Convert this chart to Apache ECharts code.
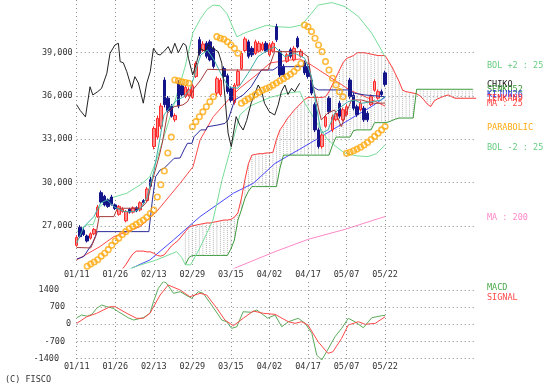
<!DOCTYPE html>
<html><head><meta charset="utf-8">
<script src="https://cdn.jsdelivr.net/npm/echarts@6/dist/echarts.min.js"></script>
<style>html,body{margin:0;padding:0;background:#fff;}#chart{width:551px;height:392px;}</style>
</head><body><div id="chart"></div>
<script>
// ---------- data ----------
const dateLabels = ['01/11','01/26','02/13','02/29','03/15','04/02','04/17','05/07','05/22'];
const dateIndex  = [0,11,22,33,44,55,66,77,88];
const slotCount  = 115;               // trading-day slots incl. 26-day forward cloud
const priceTicks = [27000,30000,33000,36000,39000];
const macdTicks  = [1400,700,0,-700,-1400];

// candles: [open, close, low, high]
const ohlc = [
[25650,26200,25550,26350],[26900,26250,26150,27050],[26700,26400,26300,26850],[26300,25950,25850,26400],
[26150,26450,26050,26550],[26450,26750,26350,26850],[27650,28300,27550,28450],[29300,28650,28550,29450],
[29050,28450,28350,29150],[28800,28350,28250,28900],[29000,28500,28400,29150],[28450,28200,28100,28550],
[27800,28350,27700,28450],[28000,28150,27900,28300],[27350,28000,27250,28100],[28150,27950,27850,28250],
[27950,28250,27850,28350],[28250,28050,27950,28350],[28100,28600,28000,28700],[28750,28600,28500,28850],
[28750,29550,28650,29700],[30200,29750,29650,30400],[32500,33750,32300,33900],[33150,34450,33000,34650],
[33900,35300,33700,35500],[37100,35400,35200,37300],[35850,35000,34850,36000],[35300,34600,34500,35450],
[34350,34650,34200,34800],[36900,35300,35150,37100],[36700,36070,35950,36850],[35950,36600,35850,36750],
[36050,36450,35950,36600],[35900,36700,35800,36850],[37350,38250,37250,38400],[39900,38950,38800,40100],
[39150,39600,39050,39800],[39650,38750,38600,39800],[39750,38500,38400,39900],[39300,38050,37900,39450],
[36200,37200,36000,37350],[36100,37100,35950,37250],[37900,37350,37200,38050],[37400,36300,36150,37550],
[36500,35700,35550,36650],[35550,36750,35400,36900],[36750,37700,36650,37850],[37900,38950,37800,39100],
[39150,39950,39050,40100],[39750,38750,38600,39900],[39300,38850,38700,39450],[38950,39750,38850,39900],
[39100,39650,39000,39800],[39200,39600,39100,39750],[39650,39100,39000,39800],[38850,39550,38750,39700],
[39100,39650,39000,39800],[40800,39900,39750,41000],[39100,37450,37300,39250],[38050,37450,37300,38200],
[38400,38850,38300,39000],[39200,38750,38600,39350],[38500,39300,38400,39450],[40000,39400,39300,40150],
[38750,39100,38650,39250],[38300,37600,37450,38450],[38050,37350,37200,38200],[37100,36200,36050,37250],
[35400,33650,33500,35550],[33650,32500,32350,33800],[32500,33300,32350,33450],[33900,34550,33800,34700],
[35850,34900,34750,36000],[33650,34550,33500,34700],[34350,34800,34250,34950],[35500,34600,34450,35650],
[34350,35050,34250,35200],[34700,35250,34600,35400],[37100,35950,35800,37250],[36050,35150,35000,36200],
[35250,34700,34550,35400],[35050,35500,34950,35650],[35150,34350,34200,35300],[34800,34350,34200,34950],
[35400,35950,35300,36100],[36400,37000,36300,37150],[35850,36300,35750,36450],[36300,36100,36000,36450],
[37600,36800,36650,37750]
];

// lines as [day index, price]
const chiko = [[0,35380],[1,35000],[2.5,34550],[3.8,36640],[4.6,36070],[6,36300],[7.1,36530],[8.6,37570],[9.5,38950],[10.9,39530],[11.9,39650],[12.4,38380],[13.3,38300],[14.3,37680],[15.7,36530],[16.6,37340],[17.6,36900],[19,35500],[20,36900],[21,37700],[21.9,39300],[23,38900],[23.8,38840],[25,39100],[26.1,39420],[27,38950],[28,39650],[29,39000],[30.4,39650],[31.2,39500],[31.9,38610],[33.1,37460],[34.2,38300],[35.2,39300],[36.6,39100],[37.6,39530],[38.9,39300],[40.4,39070],[41.4,38270],[42.3,35950],[43.2,33430],[44.1,32490],[45.5,34570],[46.5,34000],[47.5,33640],[48.5,34300],[49.8,35520],[51.8,36760],[52.8,36300],[53.6,35490],[55,34900],[56.5,34680],[57.5,35380],[58.4,36300],[59.4,36760],[60.3,36100],[61.3,36530],[62.2,36300],[63.6,36880]];
const tealLine = [[0,25800],[2.1,26945],[4.9,27640],[6.8,28570],[8.7,28800],[10.6,28330],[13.5,27985],[16.4,27985],[18.3,28220],[20.1,29020],[22.1,30870],[23.5,32720],[24.9,34685],[26.8,35260],[28.7,35720],[30.6,35950],[32.5,36530],[34,37800],[35.4,38840],[37.3,39190],[39.2,38490],[41.1,37570],[43.2,36645],[46,36530],[48.9,37570],[51.7,38720],[54.6,39190],[56.5,39415],[59.4,38720],[62.2,38960],[65.1,38610],[67,37340],[68.4,35260],[69.8,33420],[71.7,33645],[73.6,34800],[75.5,35260],[77.4,35600],[79.3,35720],[81.2,35490],[84.1,35600],[86.9,35720],[88,36000]];
const tenkan = [[0,25500],[4,25470],[5.4,26250],[6.4,27640],[10.6,27640],[11.6,28220],[18.3,28220],[19.7,28570],[20.3,28800],[21.1,29720],[23.5,31800],[24.4,32720],[25.9,34800],[27.8,35260],[30.3,35380],[31.6,35600],[33.5,36530],[35.4,37110],[37.3,37850],[43.2,37800],[54.6,37800],[56.5,39070],[64.1,39070],[66,38720],[67,37110],[68.4,35720],[69.8,34340],[71.7,34820],[73.6,35030],[75.5,33870],[76.9,34800],[78.4,35720],[81.2,35720],[83.1,35600],[85,35490],[88,35510]];
const kijun = [[0,24700],[2,24870],[4.5,25800],[5.9,26600],[20.6,26600],[21.6,28800],[22.5,30400],[23.8,30870],[25,31000],[27.8,31680],[29.5,31700],[30.6,32260],[31.6,32720],[32.9,32720],[33.5,33180],[35.4,33650],[36.9,33650],[37.3,33870],[40.1,33980],[42.3,34100],[43.2,34340],[45.1,35720],[47.5,36070],[49.8,36640],[52.7,37800],[56,37800],[57.4,38030],[66,38030],[67.4,36640],[68.9,36420],[77.4,36420],[79.3,36190],[82.2,36070],[88,35950]];
const ma25 = [[0,24640],[6.6,25560],[10.6,26250],[18.1,26945],[22.8,27985],[29.5,29950],[33.2,31100],[35.2,32950],[39,34570],[43.7,35840],[46.6,36550],[52.3,37660],[55.2,38290],[60.9,38490],[63.7,38560],[66.6,38200],[72.3,37300],[78,36400],[83.7,35800],[88,35300]];
const bolUpper = [[0,26600],[2.9,27060],[4.7,27100],[6.6,28330],[9.5,28910],[14.3,29260],[18.1,29835],[20.9,30410],[22.8,31560],[24.6,32950],[28,35600],[30.9,38000],[33.2,40400],[35.2,41300],[37.2,42000],[38.9,42300],[40.9,42250],[42.9,41700],[45.7,40100],[48.3,40400],[54.2,40900],[56.6,40800],[61,40750],[64.2,40920],[67,41730],[68.9,42300],[72.8,42470],[76.6,42190],[80.4,41500],[84.2,40350],[87,39160],[88,38700]];
const bolLower = [[13,23800],[17,24200],[22.8,24640],[28.5,25215],[30,24800],[31,24300],[32.5,24300],[35,25400],[38.9,27400],[41.5,30200],[44.6,32950],[46.6,34700],[49.4,35300],[55.2,35900],[60,36200],[63.7,36300],[65.1,35500],[68,34340],[69.8,33650],[71.7,32950],[74.6,32380],[76.6,32030],[80,31850],[83.1,31800],[85.5,32000],[88,32600]];
const ma75 = [[15.7,24070],[20.9,24640],[27.6,26020],[35.2,27640],[44.7,29260],[50.4,29950],[56.6,31330],[63.7,32320],[70.9,33350],[78,34390],[84,35250],[88,35910]];
const ma200 = [[44.6,24020],[56.6,25215],[66.1,26070],[76.6,26760],[88,27650]];

// cloud spans, one value per day slot (null = not drawn)
const senkouA = [null,null,null,null,null,null,null,null,null,null,null,null,null,
24000,24300,24700,25050,25250,25250,25250,25200,25200,25100,24950,24900,25000,25300,25600,25800,26000,
26300,26600,26900,27000,27050,27100,27150,27200,27200,27250,27300,27350,27400,27400,27450,27600,27900,
28900,30200,31300,31900,31950,32000,32000,32050,32050,32100,33000,33650,34000,34400,34700,35000,35250,
35500,35750,35900,35900,35900,35900,35900,35950,36300,36800,37300,37800,38300,38600,38700,38800,39000,
39000,39000,38950,38900,38850,38800,38800,38800,38400,38000,37500,37000,36400,36300,36250,36200,36150,
36000,35750,35450,35260,35650,35800,35900,36000,36070,35950,35840,35840,35840,35840,35840,35840,35840];
const senkouB = [null,null,null,null,null,null,null,null,null,null,null,null,null,null,null,null,null,null,
null,null,null,null,null,null,null,null,null,null,null,null,null,
24300,24800,24950,24950,24950,24950,24950,24950,24950,24950,24950,24950,24950,25400,26020,27400,28100,
28900,29400,29720,29720,29720,29720,29720,29720,29720,29720,31000,31900,31900,31900,31900,31900,31900,
31900,31900,31900,31900,31900,31900,31900,31900,32600,33150,33150,33150,33150,33150,33600,33650,33650,
33650,33650,33650,34150,34150,34150,34150,34200,34300,34400,34470,34470,34470,34470,34470,36465,36465,
36465,36465,36465,36465,36465,36465,36465,36465,36465,36465,36465,36465,36465,36465,36465];

// parabolic SAR, one per candle
const sar = [null,null,24050,24200,24350,24500,24650,24900,25100,25350,25650,25950,26150,26400,26600,26800,
26950,27100,27250,27400,27600,27850,28100,29000,29850,30800,32050,33150,
37110,37050,36990,36930,36880,
33870,34220,34560,34900,35250,35600,35950,
40110,40000,39930,39760,39530,39300,38960,
35500,35650,35800,35950,36100,36250,36400,36500,36600,36750,36900,37050,37200,37350,37500,37700,37950,38250,
40920,40800,40460,40000,39530,39070,38380,37800,37230,36760,36300,35950,
32030,32100,32200,32320,32450,32600,32780,32980,33200,33420,33650,33880];

// MACD panel
const macd = [[0,267],[1.4,378],[3,330],[4.3,406],[5.7,651],[7.1,786],[8.6,716],[10.4,651],[11.9,512],[14.7,267],[16.2,173],[19,267],[20.9,447],[21.9,921],[23.3,1468],[24.7,1737],[25.5,1700],[27.6,1264],[29.5,1329],[32.8,1060],[34.7,1329],[36.1,1264],[38.5,786],[41.4,173],[42.8,104],[44.2,-166],[45.7,-100],[47.5,512],[49.9,488],[51.4,582],[53.3,378],[54.5,250],[56.6,378],[58.5,-100],[60.4,104],[63.2,243],[65.2,39],[67.1,-370],[68.5,-1256],[69.9,-1460],[71.3,-1121],[73.7,-508],[75.6,-166],[77.5,243],[79.4,104],[81.8,-141],[84.2,267],[87,349],[88,360]];
const signal = [[0,39],[2.9,308],[5.7,447],[9.5,716],[11,716],[14.3,447],[17.1,243],[19,243],[20.9,447],[23.8,1194],[26.1,1603],[29.5,1398],[32.3,1125],[35.2,1264],[37.1,1194],[40,651],[42.3,173],[44.7,-59],[47.5,243],[50.4,541],[53.3,447],[56.6,406],[60.4,104],[62.3,39],[64.2,104],[66,-30],[68.9,-713],[71.7,-1186],[73.1,-1121],[75.6,-574],[77.5,-30],[80.4,104],[82.3,-2],[85.2,39],[88,308]];

// ---------- chart ----------
const FONT = '"DejaVu Sans Mono", "Liberation Mono", monospace';
const gridDots = {color:'#8c8c8c', type:[1,3], width:1};
const slots = Array.from({length: slotCount}, (_, i) => String(i));
const isDate = (i) => dateIndex.indexOf(i) >= 0;
const dateText = (v) => { const k = dateIndex.indexOf(+v); return k >= 0 ? dateLabels[k] : ''; };
const macdLabelGap = {'1400':17.7, '700':11.7, '0':5.7, '-700':11.7, '-1400':17.7};

const cloud = [];
for (let i = 0; i < slotCount; i++) {
  if (senkouA[i] != null && senkouB[i] != null) cloud.push([i, senkouA[i], senkouB[i]]);
}
const sarPts = [];
sar.forEach((v, i) => { if (v != null) sarPts.push([i, v]); });
const senkouAPts = [], senkouBPts = [];
senkouA.forEach((v, i) => { if (v != null) senkouAPts.push([i, v]); });
senkouB.forEach((v, i) => { if (v != null) senkouBPts.push([i, v]); });

function catAxis(grid) {
  return {type:'category', gridIndex:grid, data:slots, boundaryGap:false,
    axisLine:{show:false}, axisTick:{show:false},
    axisLabel:{interval:(i)=>isDate(i), formatter:dateText, fontFamily:FONT, fontSize:8.5, color:'#333', margin:2},
    splitLine:{show:true, interval:(i)=>isDate(i), lineStyle:gridDots}};
}
function line(name, data, color, extra) {
  return Object.assign({type:'line', name, data, xAxisIndex:1, yAxisIndex:0, symbol:'none',
    lineStyle:{color, width:1}, silent:true, z:3}, extra || {});
}
function gridMarks(values, fmt, gaps) {
  return {silent:true, symbol:['none','none'], lineStyle:gridDots,
    label:{show:true, position:'start', distance:4, formatter:(p)=>fmt(p.value),
      fontFamily:FONT, fontSize:8.5, color:'#333'},
    data: values.map(v => {
      const item = {yAxis:v};
      if (gaps) item.label = {distance: gaps[String(v)]};
      return item;
    })};
}

const chart = echarts.init(document.getElementById('chart'), null, {renderer:'canvas'});
chart.setOption({
  animation:false,
  backgroundColor:'#fff',
  grid:[{left:76.7, right:74.8, top:0, height:268},{left:76.7, right:74.8, top:282, height:78}],
  xAxis:[catAxis(0), {type:'value', gridIndex:0, min:0, max:slotCount-1, show:false},
         catAxis(1), {type:'value', gridIndex:1, min:0, max:slotCount-1, show:false}],
  yAxis:[{type:'value', gridIndex:0, min:24080, max:42650, show:false},
         {type:'value', gridIndex:1, min:-1457, max:1725, show:false}],
  series:[
    {type:'custom', xAxisIndex:1, yAxisIndex:0, data:cloud, silent:true, z:1,
     renderItem:(params, api) => {
       const p1 = api.coord([api.value(0), api.value(1)]);
       const p2 = api.coord([api.value(0), api.value(2)]);
       const cs = params.coordSys;
       const lo = cs.y, hi = cs.y + cs.height;
       const y1 = Math.max(lo, Math.min(hi, Math.min(p1[1], p2[1])));
       const y2 = Math.max(lo, Math.min(hi, Math.max(p1[1], p2[1])));
       return {type:'line', shape:{x1:p1[0], y1, x2:p1[0], y2},
               style:{stroke:'#b4b4b4', lineWidth:1, lineDash:[1,1]}};
     },
     markLine: gridMarks(priceTicks, v => v.toLocaleString('en-US'))},
    line('MA : 200', ma200, '#ff88c8'),
    line('MA75', ma75, '#4a4aff'),
    line('SENKO A', senkouAPts, '#ff3a3a'),
    line('SENKO52', senkouBPts, '#3c9a3c'),
    line('BOL +2', bolUpper, '#77dd99'),
    line('BOL -2', bolLower, '#77dd99'),
    line('MA : 25', ma25, '#ff4a4a'),
    {type:'candlestick', xAxisIndex:0, yAxisIndex:0, data:ohlc, barWidth:3, clip:false, silent:true, z:4,
     itemStyle:{color:'#ff8c8c', color0:'#14148a', borderColor:'#ff2a2a', borderColor0:'#14148a', borderWidth:1}},
    line('KIJUN', kijun, '#2a2a9a', {z:5}),
    line('TENKAN', tenkan, '#a83a3a', {z:5}),
    line('TEAL', tealLine, '#3fb0a8', {z:5}),
    line('CHIKO', chiko, '#222222', {z:5}),
    {type:'scatter', xAxisIndex:1, yAxisIndex:0, data:sarPts, symbol:'circle', symbolSize:5.5, silent:true, z:6,
     itemStyle:{color:'rgba(255,255,255,0)', borderColor:'#ffaa10', borderWidth:1.6}},
    {type:'line', name:'MACD', data:macd, xAxisIndex:3, yAxisIndex:1, symbol:'none', silent:true,
     lineStyle:{color:'#5aaa5a', width:1}, z:3,
     markLine: gridMarks(macdTicks, v => String(v), macdLabelGap)},
    {type:'line', name:'SIGNAL', data:signal, xAxisIndex:3, yAxisIndex:1, symbol:'none', silent:true,
     lineStyle:{color:'#ff4a4a', width:1}, z:4}
  ],
  graphic:[
    {type:'text', x:487, y:61, style:{text:'BOL +2 : 25', fill:'#66cc80', font:'8.5px '+FONT}},
    {type:'text', x:487, y:80, style:{text:'CHIKO', fill:'#222', font:'8.5px '+FONT}},
    {type:'text', x:487, y:85, style:{text:'SENKO52', fill:'#3c9a3c', font:'8.5px '+FONT}},
    {type:'text', x:487, y:90, style:{text:'KIJUN26', fill:'#3a3ae0', font:'8.5px '+FONT}},
    {type:'text', x:487, y:94, style:{text:'TENKAN9', fill:'#ff3030', font:'8.5px '+FONT}},
    {type:'text', x:487, y:99, style:{text:'MA : 25', fill:'#ff4a4a', font:'8.5px '+FONT}},
    {type:'text', x:487, y:123, style:{text:'PARABOLIC', fill:'#ffaa10', font:'8.5px '+FONT}},
    {type:'text', x:487, y:143, style:{text:'BOL -2 : 25', fill:'#66cc80', font:'8.5px '+FONT}},
    {type:'text', x:487, y:213, style:{text:'MA : 200', fill:'#ff88c8', font:'8.5px '+FONT}},
    {type:'text', x:487, y:283, style:{text:'MACD', fill:'#4aa84a', font:'8.5px '+FONT}},
    {type:'text', x:487, y:293, style:{text:'SIGNAL', fill:'#ff4a4a', font:'8.5px '+FONT}},
    {type:'text', x:5, y:375, style:{text:'(C) FISCO', fill:'#333', font:'8.5px '+FONT}}
  ]
});
</script>
</body></html>
